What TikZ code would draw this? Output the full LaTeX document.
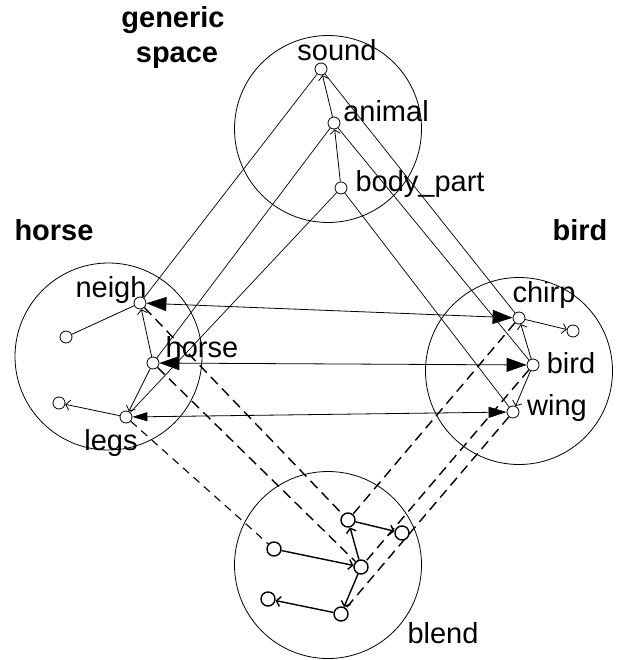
\documentclass[tikz,border=0pt]{standalone}
\usepackage{fontspec}
\setmainfont{Liberation Sans}
\usetikzlibrary{arrows.meta,backgrounds}
\begin{document}
\begin{tikzpicture}[x=1pt,y=-1pt,
  font=\fontsize{29}{32}\selectfont,
  space/.style={draw, circle, line width=0.8pt, minimum size=187pt, inner sep=0pt},
  el/.style={draw, circle, fill=white, line width=0.8pt, minimum size=12pt, inner sep=0pt},
  bel/.style={el, line width=1.4pt, minimum size=14pt},
  rel/.style={line width=0.8pt, -{Straight Barb[length=4pt,width=10pt]}},
  brel/.style={rel, line width=1.4pt},
  plainrel/.style={line width=0.8pt},
  cross/.style={line width=0.7pt},
  proj/.style={line width=1.4pt, dash pattern=on 10pt off 6pt},
  bigtip/.style={line width=0.8pt, {Triangle[length=20pt,width=14pt]}-{Triangle[length=20pt,width=14pt]}},
  lab/.style={anchor=base, inner sep=0pt},
  ttl/.style={anchor=base, inner sep=0pt, font=\fontsize{29}{32}\selectfont\bfseries}]

\useasboundingbox (0,0) rectangle (618,660);

% the four mental spaces
\node[space] (G) at (328,129) {};
\node[space] (H) at (108.5,356.5) {};
\node[space] (B) at (519,371) {};
\node[space] (M) at (328,565) {};

% titles
\node[ttl] (tgen) at (173,28) {generic};
\node[ttl] (tspc) at (177,63) {space};
\node[ttl] (thorse) at (54,240) {horse};
\node[ttl] (tbird) at (580,240) {bird};

% generic space elements
\node[el] (sound) at (321,69) {};
\node[el] (animal) at (334,123) {};
\node[el] (bodypart) at (341,188) {};

% horse space elements
\node[el] (neigh) at (140,303) {};
\node[el] (horse) at (153,363) {};
\node[el] (legs) at (126,417) {};
\node[el] (hx1) at (66,337) {};
\node[el] (hx2) at (59,403) {};

% bird space elements
\node[el] (chirp) at (519,318) {};
\node[el] (bird) at (533,365) {};
\node[el] (wing) at (513,412) {};
\node[el] (bx1) at (573,331) {};

% blended space elements
\node[bel] (b1) at (348,520) {};
\node[bel] (b2) at (402,533) {};
\node[bel] (b3) at (361,567) {};
\node[bel] (b4) at (274,549) {};
\node[bel] (b5) at (341,614) {};
\node[bel] (b6) at (268,599) {};

% element labels
\node[lab] (lsound) at (337,61) {sound};
\node[lab] (lanimal) at (386,122) {animal};
\node[lab] (lbody) at (420,192) {body\_part};
\node[lab] (lneigh) at (111,297) {neigh};
\node[lab] (lhorse) at (202,357) {horse};
\node[lab] (llegs) at (111,450) {legs};
\node[lab] (lchirp) at (544,302) {chirp};
\node[lab] (lbird) at (571,373) {bird};
\node[lab] (lwing) at (557,415) {wing};
\node[lab] (lblend) at (443,643) {blend};

\begin{scope}[on background layer]
  \fill[white] (0,0) rectangle (618,660);

  % generic space to the inputs
  \draw[cross] (sound) -- (neigh);
  \draw[cross] (sound) -- (chirp);
  \draw[cross] (animal) -- (horse);
  \draw[cross] (animal) -- (bird);
  \draw[cross] (bodypart) -- (legs);
  \draw[cross] (bodypart) -- (wing);

  % relations inside the spaces
  \draw[rel] (animal) -- (sound);
  \draw[rel] (bodypart) -- (animal);

  \draw[rel] (horse) -- (neigh);
  \draw[rel] (horse) -- (legs);
  \draw[plainrel] (hx1) -- (neigh);
  \draw[rel] (legs) -- (hx2);

  \draw[rel] (bird) -- (chirp);
  \draw[rel] (bird) -- (wing);
  \draw[rel] (chirp) -- (bx1);

  \draw[brel] (b3) -- (b1);
  \draw[brel] (b1) -- (b2);
  \draw[brel] (b4) -- (b3);
  \draw[brel] (b3) -- (b5);
  \draw[brel] (b5) -- (b6);

  % cross-space counterparts
  \draw[bigtip] (neigh) -- (chirp);
  \draw[bigtip] (horse) -- (bird);
  \draw[line width=0.8pt, {Triangle[length=15pt,width=9pt]}-{Triangle[length=18pt,width=11pt]}] (legs) -- (wing);

  % projections into the blend
  \draw[proj] (neigh) -- (b1);
  \draw[proj] (horse) -- (b3);
  \draw[proj, line width=1.1pt, dash pattern=on 8pt off 6pt] (legs) -- (b4);
  \draw[proj] (chirp) -- (b1);
  \draw[proj] (bird) -- (b3);
  \draw[proj] (wing) -- (b5);
\end{scope}
\end{tikzpicture}
\end{document}
